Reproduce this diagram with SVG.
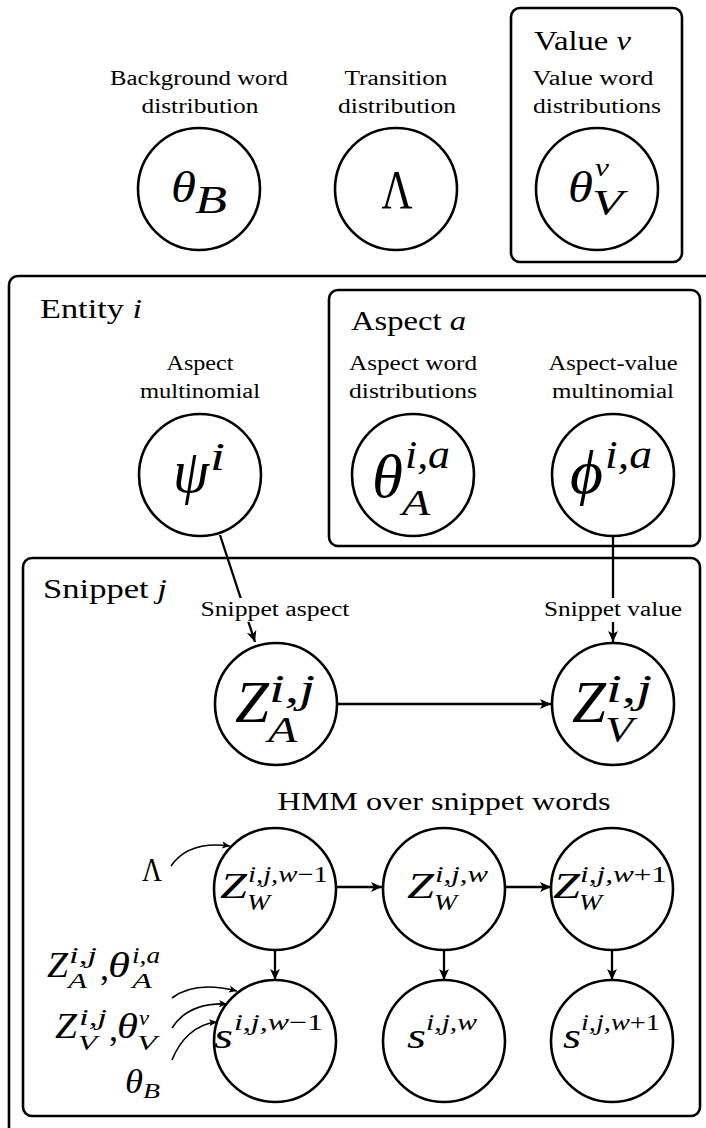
<svg xmlns="http://www.w3.org/2000/svg" width="706" height="1128" viewBox="0 0 706 1128">
<style>
text{font-family:"Liberation Serif","Times New Roman",serif;fill:#000}
.lbl{font-size:20px;text-anchor:middle}
.ttl{font-size:27px}
.mi{font-style:italic}
.node{fill:#fff;stroke:#000;stroke-width:2.6}
.plate{fill:none;stroke:#000;stroke-width:2.6}
.edge{fill:none;stroke:#000;stroke-width:2.3}
.thin{fill:none;stroke:#000;stroke-width:1.6}
</style>
<defs>
<marker id="ah" viewBox="0 0 10 10" refX="10" refY="5" markerWidth="11" markerHeight="11" markerUnits="userSpaceOnUse" orient="auto"><path d="M0,0.5 L10,5 L0,9.5 L2.5,5 z" fill="#000"/></marker>
<marker id="ahs" viewBox="0 0 10 10" refX="10" refY="5" markerWidth="8" markerHeight="8" markerUnits="userSpaceOnUse" orient="auto"><path d="M0,0.5 L10,5 L0,9.5 L2.5,5 z" fill="#000"/></marker>
</defs>
<rect width="706" height="1128" fill="#fff"/>

<g id="plates">
<rect class="plate" x="511" y="8" width="171" height="254" rx="9"/>
<rect class="plate" x="9" y="276" width="740" height="900" rx="9"/>
<rect class="plate" x="329" y="290" width="371" height="256" rx="9"/>
<rect class="plate" x="23" y="558" width="677" height="558" rx="9"/>
<text class="ttl" x="534" y="50" textLength="97" lengthAdjust="spacingAndGlyphs">Value <tspan class="mi">v</tspan></text>
<text class="ttl" x="40" y="318" textLength="102" lengthAdjust="spacingAndGlyphs">Entity <tspan class="mi">i</tspan></text>
<text class="ttl" x="351" y="330" textLength="115" lengthAdjust="spacingAndGlyphs">Aspect <tspan class="mi">a</tspan></text>
<text class="ttl" x="43" y="598" textLength="124" lengthAdjust="spacingAndGlyphs">Snippet <tspan class="mi">j</tspan></text>
<text x="444" y="810" font-size="26" text-anchor="middle" textLength="333" lengthAdjust="spacingAndGlyphs">HMM over snippet words</text>
</g>

<g id="connectors">
<path class="edge" d="M220,535 L255,642" marker-end="url(#ah)"/>
<path class="edge" d="M613,537 L613,642" marker-end="url(#ah)"/>
<path class="edge" d="M337,704 L551,704" marker-end="url(#ah)"/>
<path class="edge" d="M337,887 L382,887" marker-end="url(#ah)"/>
<path class="edge" d="M506,887 L551,887" marker-end="url(#ah)"/>
<path class="edge" d="M275,950 L275,980" marker-end="url(#ah)"/>
<path class="edge" d="M444,950 L444,980" marker-end="url(#ah)"/>
<path class="edge" d="M612,950 L612,980" marker-end="url(#ah)"/>
<path class="thin" d="M171,866 C182,850 200,842 230,846" marker-end="url(#ahs)"/>
<path class="thin" d="M172,998 C185,988 205,983 237,991" marker-end="url(#ahs)"/>
<path class="thin" d="M172,1028 C182,1012 200,1003 227,1004" marker-end="url(#ahs)"/>
<path class="thin" d="M172,1060 C180,1040 195,1024 217,1022" marker-end="url(#ahs)"/>
<rect x="198" y="598" width="154" height="24" fill="#fff"/>
<rect x="542" y="598" width="142" height="24" fill="#fff"/>
</g>

<g id="labels">
<text class="lbl" x="199" y="85" textLength="178" lengthAdjust="spacingAndGlyphs">Background word</text>
<text class="lbl" x="200" y="113" textLength="117" lengthAdjust="spacingAndGlyphs">distribution</text>
<text class="lbl" x="396" y="85" textLength="103" lengthAdjust="spacingAndGlyphs">Transition</text>
<text class="lbl" x="397" y="113" textLength="118" lengthAdjust="spacingAndGlyphs">distribution</text>
<text class="lbl" x="593" y="85" textLength="121" lengthAdjust="spacingAndGlyphs">Value word</text>
<text class="lbl" x="597" y="113" textLength="128" lengthAdjust="spacingAndGlyphs">distributions</text>
<text class="lbl" x="200" y="370" textLength="67" lengthAdjust="spacingAndGlyphs">Aspect</text>
<text class="lbl" x="200" y="398" textLength="120" lengthAdjust="spacingAndGlyphs">multinomial</text>
<text class="lbl" x="413" y="370" textLength="128" lengthAdjust="spacingAndGlyphs">Aspect word</text>
<text class="lbl" x="413" y="398" textLength="128" lengthAdjust="spacingAndGlyphs">distributions</text>
<text class="lbl" x="613" y="370" textLength="129" lengthAdjust="spacingAndGlyphs">Aspect-value</text>
<text class="lbl" x="613" y="398" textLength="122" lengthAdjust="spacingAndGlyphs">multinomial</text>
<text class="lbl" x="275" y="616" textLength="149" lengthAdjust="spacingAndGlyphs">Snippet aspect</text>
<text class="lbl" x="613" y="616" textLength="138" lengthAdjust="spacingAndGlyphs">Snippet value</text>
</g>

<g id="node-theta-B">
<ellipse class="node" cx="199" cy="189" rx="61" ry="61"/>
<text class="mi" x="171" y="202" font-size="44" textLength="25" lengthAdjust="spacingAndGlyphs">θ</text>
<text class="mi" x="195" y="213" font-size="41" textLength="32" lengthAdjust="spacingAndGlyphs">B</text>
</g>
<g id="node-lambda">
<ellipse class="node" cx="396" cy="189" rx="61" ry="61"/>
<text x="397" y="208" font-size="54" text-anchor="middle" textLength="31" lengthAdjust="spacingAndGlyphs">Λ</text>
</g>
<g id="node-theta-V">
<ellipse class="node" cx="597" cy="189" rx="61" ry="61"/>
<text class="mi" x="568" y="202" font-size="44" textLength="25" lengthAdjust="spacingAndGlyphs">θ</text>
<text class="mi" x="595" y="176" font-size="25" textLength="14" lengthAdjust="spacingAndGlyphs">v</text>
<text class="mi" x="592" y="215" font-size="36" textLength="31" lengthAdjust="spacingAndGlyphs">V</text>
</g>
<g id="node-psi">
<ellipse class="node" cx="200" cy="475" rx="61" ry="61"/>
<text class="mi" x="173" y="492" font-size="62" textLength="36" lengthAdjust="spacingAndGlyphs">ψ</text>
<text class="mi" x="210" y="470" font-size="40" textLength="15" lengthAdjust="spacingAndGlyphs">i</text>
</g>
<g id="node-theta-A">
<ellipse class="node" cx="413" cy="475" rx="61" ry="61"/>
<text class="mi" x="372" y="497" font-size="62" textLength="31" lengthAdjust="spacingAndGlyphs">θ</text>
<text class="mi" x="405" y="468" font-size="40" textLength="45" lengthAdjust="spacingAndGlyphs">i,a</text>
<text class="mi" x="402" y="515" font-size="36" textLength="28" lengthAdjust="spacingAndGlyphs">A</text>
</g>
<g id="node-phi">
<ellipse class="node" cx="613" cy="475" rx="61" ry="61"/>
<text class="mi" x="570" y="493" font-size="62" textLength="33" lengthAdjust="spacingAndGlyphs">ϕ</text>
<text class="mi" x="605" y="468" font-size="40" textLength="47" lengthAdjust="spacingAndGlyphs">i,a</text>
</g>
<g id="node-Z-A">
<ellipse class="node" cx="276" cy="704" rx="61" ry="61"/>
<text class="mi" x="235" y="722" font-size="60" textLength="34" lengthAdjust="spacingAndGlyphs">Z</text>
<text class="mi" x="269" y="702" font-size="40" textLength="46" lengthAdjust="spacingAndGlyphs">i,j</text>
<text class="mi" x="268" y="742" font-size="36" textLength="29" lengthAdjust="spacingAndGlyphs">A</text>
</g>
<g id="node-Z-V">
<ellipse class="node" cx="613" cy="704" rx="61" ry="61"/>
<text class="mi" x="572" y="722" font-size="60" textLength="34" lengthAdjust="spacingAndGlyphs">Z</text>
<text class="mi" x="606" y="702" font-size="40" textLength="46" lengthAdjust="spacingAndGlyphs">i,j</text>
<text class="mi" x="605" y="742" font-size="36" textLength="28" lengthAdjust="spacingAndGlyphs">V</text>
</g>
<g id="node-Z-W-prev">
<ellipse class="node" cx="275" cy="889" rx="61" ry="61"/>
<text class="mi" x="220" y="898" font-size="36" textLength="27" lengthAdjust="spacingAndGlyphs">Z</text>
<text class="mi" x="248" y="882" font-size="23" textLength="80" lengthAdjust="spacingAndGlyphs">i,j,w<tspan font-style="normal">−1</tspan></text>
<text class="mi" x="247" y="910" font-size="24" textLength="23" lengthAdjust="spacingAndGlyphs">W</text>
</g>
<g id="node-Z-W">
<ellipse class="node" cx="444" cy="889" rx="61" ry="61"/>
<text class="mi" x="407" y="898" font-size="36" textLength="27" lengthAdjust="spacingAndGlyphs">Z</text>
<text class="mi" x="435" y="882" font-size="23" textLength="53" lengthAdjust="spacingAndGlyphs">i,j,w</text>
<text class="mi" x="434" y="910" font-size="24" textLength="23" lengthAdjust="spacingAndGlyphs">W</text>
</g>
<g id="node-Z-W-next">
<ellipse class="node" cx="612" cy="889" rx="61" ry="61"/>
<text class="mi" x="553" y="898" font-size="36" textLength="27" lengthAdjust="spacingAndGlyphs">Z</text>
<text class="mi" x="580" y="882" font-size="23" textLength="87" lengthAdjust="spacingAndGlyphs">i,j,w<tspan font-style="normal">+1</tspan></text>
<text class="mi" x="579" y="910" font-size="24" textLength="23" lengthAdjust="spacingAndGlyphs">W</text>
</g>
<g id="node-s-prev">
<ellipse class="node" cx="275" cy="1041" rx="61" ry="61"/>
<text class="mi" x="214" y="1048" font-size="36" textLength="19" lengthAdjust="spacingAndGlyphs">s</text>
<text class="mi" x="234" y="1030" font-size="23" textLength="89" lengthAdjust="spacingAndGlyphs">i,j,w<tspan font-style="normal">−1</tspan></text>
</g>
<g id="node-s">
<ellipse class="node" cx="444" cy="1041" rx="61" ry="61"/>
<text class="mi" x="407" y="1048" font-size="36" textLength="19" lengthAdjust="spacingAndGlyphs">s</text>
<text class="mi" x="426" y="1030" font-size="23" textLength="51" lengthAdjust="spacingAndGlyphs">i,j,w</text>
</g>
<g id="node-s-next">
<ellipse class="node" cx="612" cy="1041" rx="61" ry="61"/>
<text class="mi" x="563" y="1048" font-size="36" textLength="18" lengthAdjust="spacingAndGlyphs">s</text>
<text class="mi" x="581" y="1030" font-size="23" textLength="79" lengthAdjust="spacingAndGlyphs">i,j,w<tspan font-style="normal">+1</tspan></text>
</g>

<g id="inputs">
<text x="142" y="881" font-size="34" textLength="20" lengthAdjust="spacingAndGlyphs">Λ</text>
<text class="mi" x="47" y="977" font-size="36" textLength="21" lengthAdjust="spacingAndGlyphs">Z</text>
<text class="mi" x="69" y="963" font-size="23" textLength="28" lengthAdjust="spacingAndGlyphs">i,j</text>
<text class="mi" x="68" y="988" font-size="22" textLength="19" lengthAdjust="spacingAndGlyphs">A</text>
<text x="100" y="980" font-size="36">,</text>
<text class="mi" x="108" y="977" font-size="36" textLength="22" lengthAdjust="spacingAndGlyphs">θ</text>
<text class="mi" x="132" y="963" font-size="23" textLength="28" lengthAdjust="spacingAndGlyphs">i,a</text>
<text class="mi" x="132" y="988" font-size="22" textLength="20" lengthAdjust="spacingAndGlyphs">A</text>
<text class="mi" x="55" y="1038" font-size="36" textLength="22" lengthAdjust="spacingAndGlyphs">Z</text>
<text class="mi" x="79" y="1025" font-size="23" textLength="28" lengthAdjust="spacingAndGlyphs">i,j</text>
<text class="mi" x="78" y="1050" font-size="22" textLength="19" lengthAdjust="spacingAndGlyphs">V</text>
<text x="109" y="1041" font-size="36">,</text>
<text class="mi" x="117" y="1038" font-size="36" textLength="21" lengthAdjust="spacingAndGlyphs">θ</text>
<text class="mi" x="139" y="1025" font-size="22" textLength="10" lengthAdjust="spacingAndGlyphs">v</text>
<text class="mi" x="137" y="1050" font-size="22" textLength="20" lengthAdjust="spacingAndGlyphs">V</text>
<text class="mi" x="125" y="1093" font-size="34" textLength="18" lengthAdjust="spacingAndGlyphs">θ</text>
<text class="mi" x="143" y="1098" font-size="22" textLength="17" lengthAdjust="spacingAndGlyphs">B</text>
</g>
</svg>
